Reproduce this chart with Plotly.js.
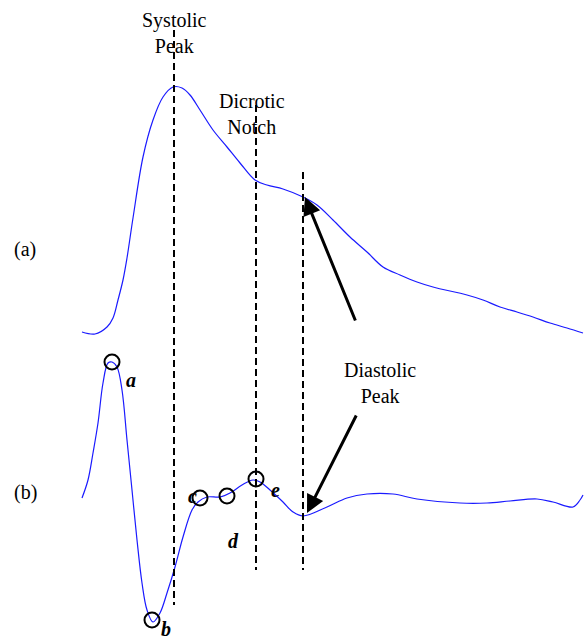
<!DOCTYPE html>
<html>
<head>
<meta charset="utf-8">
<script src="https://cdn.plot.ly/plotly-3.0.1.min.js"></script>
<style>
  html, body { margin: 0; padding: 0; background: #fff; }
  #chart { width: 585px; height: 643px; }
</style>
</head>
<body>
<div id="chart"></div>
<script>
// Coordinates are in figure units: x left to right, y top to bottom (0..643)

// (a) pulse waveform
const waveX = [82, 95, 107, 113, 118, 123, 127, 133, 143, 153, 163, 173, 182, 190, 200, 213, 227, 240, 255, 267, 283, 303, 317, 333, 350, 367, 383, 400, 417, 433, 467, 483, 500, 517, 533, 550, 567, 583];
const waveY = [332, 334, 327, 318, 300, 280, 258, 218, 157, 120, 97, 87, 88, 95, 110, 130, 147, 163, 180, 185, 189, 197, 205, 220, 237, 252, 267, 275, 282, 287, 295, 300, 307, 312, 317, 323, 328, 333];

// (b) second derivative
const derivX = [82, 88, 93, 98, 103, 108, 112, 117, 122, 127, 132, 137, 142, 147, 153, 160, 167, 175, 183, 192, 198, 207, 220, 230, 242, 253, 260, 270, 283, 293, 303, 327, 347, 367, 393, 417, 460, 487, 510, 537, 553, 573, 580, 583];
const derivY = [498, 480, 453, 423, 383, 363, 362, 367, 390, 440, 490, 540, 583, 610, 622, 613, 593, 567, 537, 510, 502, 497, 497, 493, 485, 480, 482, 490, 502, 512, 516, 507, 498, 494, 494, 499, 503, 503, 501, 499, 502, 507, 500, 495];

// marked points a..e
const markLabels = ['a', 'b', 'c', 'd', 'e'];
const markX = [112, 152, 200, 227, 256];
const markY = [362, 620, 498, 496, 479];
const labelX = [131, 166, 192, 233, 275];
const labelY = [380, 629, 496, 541, 490];

// dashed guide lines
const guideX = [174, 256, 303];
const guideTop = [30, 105, 172];
const guideBottom = [605, 570, 570];

const traces = [
  { x: waveX, y: waveY, type: 'scatter', mode: 'lines', line: { color: '#1a1aff', width: 1.2, shape: 'spline' }, hoverinfo: 'skip' },
  { x: derivX, y: derivY, type: 'scatter', mode: 'lines', line: { color: '#1a1aff', width: 1.2, shape: 'spline' }, hoverinfo: 'skip' },
  { x: markX, y: markY, type: 'scatter', mode: 'markers', marker: { symbol: 'circle-open', size: 15, color: '#000', line: { width: 2, color: '#000' } }, hoverinfo: 'skip' }
];

const shapes = guideX.map((gx, i) => ({
  type: 'line', xref: 'x', yref: 'y',
  x0: gx, x1: gx, y0: guideTop[i], y1: guideBottom[i],
  line: { color: '#000', width: 2, dash: '7px,4px' }
}));

const serif = { family: 'Liberation Serif, Times New Roman, serif', size: 20, color: '#000' };

const annotations = [
  { x: 174, y: 33, text: 'Systolic<br>Peak', showarrow: false, font: serif },
  { x: 252, y: 114, text: 'Dicrotic<br>Notch', showarrow: false, font: serif },
  { x: 380, y: 383, text: 'Diastolic<br>Peak', showarrow: false, font: serif },
  { x: 25, y: 249, text: '(a)', showarrow: false, font: serif },
  { x: 25, y: 492, text: '(b)', showarrow: false, font: serif },
  { x: 305, y: 197, ax: 356, ay: 322, axref: 'x', ayref: 'y', text: '', showarrow: true,
    arrowhead: 2, arrowsize: 1.2, arrowwidth: 3, arrowcolor: '#000', standoff: 0 },
  { x: 307, y: 513, ax: 357, ay: 414, axref: 'x', ayref: 'y', text: '', showarrow: true,
    arrowhead: 2, arrowsize: 1.2, arrowwidth: 3, arrowcolor: '#000', standoff: 0 }
];

markLabels.forEach((m, i) => {
  annotations.push({ x: labelX[i], y: labelY[i], text: '<b><i>' + m + '</i></b>', showarrow: false,
    font: { family: 'Liberation Serif, Times New Roman, serif', size: 20, color: '#000' } });
});

Plotly.newPlot('chart', traces, {
  width: 585, height: 643,
  margin: { l: 0, r: 0, t: 0, b: 0 },
  paper_bgcolor: '#fff', plot_bgcolor: '#fff',
  showlegend: false,
  xaxis: { range: [0, 585], visible: false, fixedrange: true },
  yaxis: { range: [643, 0], visible: false, fixedrange: true },
  shapes: shapes,
  annotations: annotations
}, { staticPlot: true });
</script>
</body>
</html>
